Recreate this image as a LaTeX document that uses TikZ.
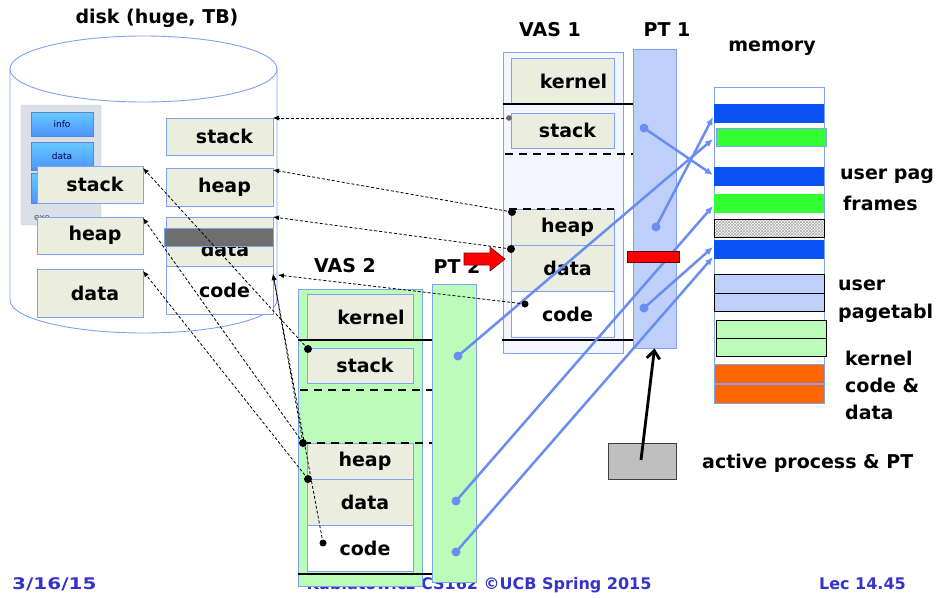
\documentclass[tikz,border=0pt]{standalone}
\usepackage{fontspec}
\setmainfont{DejaVu Sans}
\usetikzlibrary{arrows.meta,patterns}
\definecolor{bbord}{HTML}{7FA2F2}
\definecolor{beige}{HTML}{EBEDDF}
\definecolor{ptblue}{HTML}{BED0FA}
\definecolor{ptgreen}{HTML}{BBFCBB}
\definecolor{lnblue}{HTML}{6A8DF2}
\definecolor{memblue}{HTML}{0B52F4}
\definecolor{memgreen}{HTML}{33FF33}
\definecolor{memorange}{HTML}{FF6600}
\definecolor{footblue}{HTML}{3434C8}
\definecolor{vasfill}{HTML}{F3F6FE}
\definecolor{iconbg}{HTML}{DAE0E9}
\definecolor{darkbar}{HTML}{6E6E6E}
\newcommand\lblfont{\fontsize{19}{22}\selectfont\bfseries}
\newcommand\footfont{\fontsize{16}{18}\selectfont\bfseries}
\tikzset{
  lbl/.style={font=\lblfont, inner sep=0pt},
  foot/.style={font=\footfont, text=footblue, inner sep=0pt},
  bx/.style={draw=bbord, line width=1pt, fill=beige, inner sep=0pt, font=\lblfont,
    execute at begin node=\hspace*{10pt}},
  wbx/.style={bx, fill=white},
  frm/.style={draw=bbord, line width=1pt, inner sep=0pt},
  btn/.style={draw=bbord!80!black, top color=blue!35!cyan!60, bottom color=blue!60!cyan!70, inner sep=0pt,
    minimum width=62, font=\fontsize{9}{10}\selectfont, text=blue!30!black},
  stripe/.style={inner sep=0pt, minimum width=110},
  solidln/.style={line width=2.6pt, black},
  dashln/.style={line width=2.6pt, black, dash pattern=on 8pt off 6pt},
  bconn/.style={lnblue, line width=2.5pt, -{Latex[length=8pt,width=7pt]}},
  dconn/.style={black, line width=0.8pt, dash pattern=on 3pt off 2pt, -{Latex[length=6pt,width=5pt]}},
  bdot/.style={fill=lnblue},
}
\begin{document}
\begin{tikzpicture}[x=1pt,y=-1pt]
\useasboundingbox (0,0) rectangle (936,597);

% footer
\node[foot, anchor=west, xscale=1.25] (date) at (12,584) {3/16/15};
\node[foot] (credit) at (479,585) {Kubiatowicz CS162 ©UCB Spring 2015};
\node[foot, anchor=east] (lec) at (906,584) {Lec 14.45};

% disk cylinder
\path[draw=bbord, fill=white, line width=0.9pt] (10,69) -- (10,300)
  arc[start angle=180, end angle=360, x radius=133.5pt, y radius=33pt] -- (277,69);
\path[draw=bbord, fill=white, line width=0.9pt] (143.5,69) ellipse[x radius=133.5pt, y radius=33pt];
\node[lbl] (disklabel) at (157,18) {disk (huge, TB)};

% exe icon
\node[draw=gray!45, fill=iconbg, rounded corners=2pt, minimum width=80, minimum height=120, inner sep=0pt] (exeicon) at (61,165) {};
\node[btn, minimum height=24] (binfo) at (62,124) {info};
\node[btn, minimum height=28] (bdata) at (62,156) {data};
\node[btn, minimum height=30] (bexe) at (62,188) {};
\node[font=\fontsize{9}{10}\selectfont, text=gray!70!black, inner sep=0pt] (exetxt) at (42,218) {exe};

% disk boxes, left column
\node[bx, minimum width=106, minimum height=37] (lstack) at (90,184.5) {stack};
\node[bx, minimum width=106, minimum height=37] (lheap) at (90,235.5) {heap};
\node[bx, minimum width=106, minimum height=48] (ldata) at (90,293) {data};
% disk boxes, right column
\node[bx, minimum width=107, minimum height=37] (dstack) at (219.5,136.5) {stack};
\node[bx, minimum width=107, minimum height=38] (dheap) at (219.5,187) {heap};
\node[bx, minimum width=107, minimum height=49] (ddata) at (219.5,241.5) {};
\node[lbl] (ddatatxt) at (225,249) {data};
\node[wbx, minimum width=107, minimum height=48] (dcode) at (219.5,290) {code};
\node[draw=bbord, fill=darkbar, minimum width=109, minimum height=18, inner sep=0pt] (dbar) at (218.5,237) {};

% VAS 1
\node[lbl] (vas1lbl) at (550,30) {VAS 1};
\node[lbl] (pt1lbl) at (667,30) {PT 1};
\node[frm, fill=vasfill, minimum width=120, minimum height=301] (vas1) at (563,202.5) {};
\node[bx, minimum width=103, minimum height=46] (k1) at (562.5,81) {\hspace*{12pt}kernel};
\node[bx, minimum width=103, minimum height=35] (s1) at (562.5,130.5) {stack};
\node[bx, minimum width=103, minimum height=36] (h1) at (562.5,227) {heap};
\node[bx, minimum width=103, minimum height=46] (d1) at (562.5,268) {data};
\node[wbx, minimum width=103, minimum height=46] (c1) at (562.5,314) {code};
\node[frm, fill=ptblue, minimum width=43, minimum height=299] (pt1) at (654.5,198.5) {};
\draw[solidln] (503,104) -- (633,104);
\draw[dashln] (505,154) -- (633,154);
\draw[dashln] (509,209) -- (614,209);
\draw[solidln] (502,340) -- (633,340);

% memory
\node[lbl] (memlbl) at (772,48) {memory};
\node[frm, fill=white, minimum width=110, minimum height=316] (mem) at (769,245) {};
\node[stripe, fill=memblue, minimum height=19] (fb1) at (769,113.5) {};
\node[stripe, fill=memgreen, draw=bbord, minimum height=18] (fg1) at (771,137) {};
\node[stripe, fill=memblue, minimum height=19] (fb2) at (769,176.5) {};
\node[stripe, fill=memgreen, minimum height=19] (fg2) at (769,203.5) {};
\node[stripe, draw=black, pattern=crosshatch, pattern color=gray!70, minimum height=18] (fhatch) at (769,228) {};
\node[stripe, fill=memblue, minimum height=19] (fb3) at (769,249.5) {};
\node[stripe, draw=black, fill=ptblue, minimum height=19] (upt1) at (769,283.5) {};
\node[stripe, draw=black, fill=ptblue, minimum height=18] (upt2) at (769,302) {};
\node[stripe, draw=black, fill=ptgreen, minimum height=18] (upt3) at (771,329) {};
\node[stripe, draw=black, fill=ptgreen, minimum height=18] (upt4) at (771,347) {};
\node[stripe, draw=bbord, fill=memorange, minimum height=19] (kc1) at (769,373.5) {};
\node[stripe, draw=bbord, fill=memorange, minimum height=19] (kc2) at (769,393.5) {};
\node[lbl, anchor=west] (upf1) at (840,176) {user pag};
\node[lbl, anchor=west] (upf2) at (843,203) {frames};
\node[lbl, anchor=west] (upt1lbl) at (838,285) {user};
\node[lbl, anchor=west] (upt2lbl) at (838,313) {pagetabl};
\node[lbl, anchor=west] (kcd1) at (845,358) {kernel};
\node[lbl, anchor=west] (kcd2) at (845,385) {code \&};
\node[lbl, anchor=west] (kcd3) at (845,412) {data};

% VAS 2
\node[lbl] (vas2lbl) at (345,266) {VAS 2};
\node[lbl] (pt2lbl) at (457,266) {PT 2};
\node[frm, fill=ptgreen, minimum width=124, minimum height=297] (vas2) at (360,437.5) {};
\node[bx, minimum width=106, minimum height=46] (k2) at (360,317) {\hspace*{12pt}kernel};
\node[bx, minimum width=106, minimum height=35] (s2) at (360,365.5) {stack};
\node[bx, minimum width=106, minimum height=36] (h2) at (360,461) {heap};
\node[bx, minimum width=106, minimum height=46] (d2) at (360,502) {data};
\node[wbx, minimum width=106, minimum height=46] (c2) at (360,548) {code};
\node[frm, fill=ptgreen, minimum width=44, minimum height=298] (pt2) at (454,433) {};
\draw[solidln] (298,340) -- (432,340);
\draw[dashln] (300,390) -- (432,390);
\draw[dashln] (303,443) -- (432,443);
\draw[solidln] (298,574) -- (432,574);

% page table entries and memory targets
\coordinate (p1a) at (644,128);
\coordinate (p1b) at (656,227);
\coordinate (p1c) at (644,308);
\coordinate (p2a) at (458,356);
\coordinate (p2b) at (456,501);
\coordinate (p2c) at (456,552);
\coordinate (m1) at (713,175);
\coordinate (m2) at (713,117);
\coordinate (m3) at (713,139);
\coordinate (m4) at (713,206);
\coordinate (m5) at (713,247);
\coordinate (m6) at (713,257);
\draw[bconn] (p1a) -- (m1);
\draw[bconn] (p1b) -- (m2);
\draw[bconn] (p2a) -- (m3);
\draw[bconn] (p2b) -- (m4);
\draw[bconn] (p1c) -- (m5);
\draw[bconn] (p2c) -- (m6);
\foreach \p in {p1a,p1b,p1c,p2a,p2b,p2c} \fill[bdot] (\p) circle[radius=4.5pt];

% virtual pages to disk
\coordinate (v1s) at (509,118);
\coordinate (v1h) at (512,212);
\coordinate (v1d) at (511,249);
\coordinate (v1c) at (525,304);
\coordinate (v2s) at (308,349);
\coordinate (v2h) at (303,443);
\coordinate (v2d) at (308,479);
\coordinate (v2c) at (323,543);
\coordinate (dsE) at (273,118);
\coordinate (dhE) at (273,170);
\coordinate (ddE) at (273,217);
\coordinate (dcE) at (278,275);
\coordinate (dcF) at (273,274);
\coordinate (lsE) at (143,168);
\coordinate (lhE) at (143,218);
\coordinate (ldE) at (143,271);
\draw[dconn] (v1s) -- (dsE);
\draw[dconn] (v1h) -- (dhE);
\draw[dconn] (v1d) -- (ddE);
\draw[dconn] (v1c) -- (dcE);
\draw[dconn] (v2s) -- (lsE);
\draw[dconn] (v2h) -- (lhE);
\draw[dconn] (v2d) -- (ldE);
\draw[dconn] (v2c) -- (dcF);
\draw[dconn] (v2h) -- (dcF);
\fill[gray!80!black] (v1s) circle[radius=2.8pt];
\foreach \p in {v1h,v1d,v2s,v2h,v2d} \fill (\p) circle[radius=4pt];
\foreach \p in {v1c,v2c} \fill (\p) circle[radius=3.5pt];

% red marker and arrow
\node[draw=red!40!black, fill=red, minimum width=52, minimum height=11, inner sep=0pt] (redbar) at (653,256.5) {};
\path[draw=red!50!black, fill=red, line width=0.6pt] (464,253) -- (490,253) -- (490,247) -- (505,259) -- (490,271) -- (490,265) -- (464,265) -- cycle;

% active process
\node[draw=black!75, fill=black!25, minimum width=68, minimum height=36, inner sep=0pt] (active) at (642,461) {};
\coordinate (actstart) at (641,460);
\draw[black, line width=2.8pt, -{Straight Barb[length=8pt,width=13pt]}] (actstart) -- (pt1.south);
\node[lbl, anchor=west] (actlbl) at (702,463) {active process \& PT};
\end{tikzpicture}
\end{document}
